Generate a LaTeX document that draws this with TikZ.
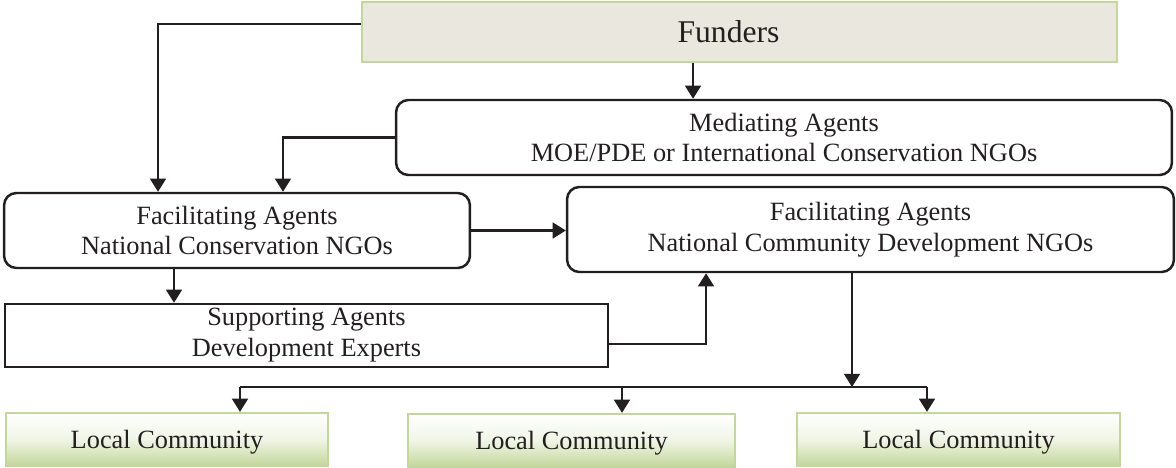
\documentclass[tikz,border=0pt]{standalone}
\usepackage{fontspec}
\setmainfont{Liberation Serif}
\usetikzlibrary{arrows.meta,positioning,calc}
\definecolor{fundfill}{RGB}{234,231,222}
\definecolor{leaf}{RGB}{195,214,155}
\definecolor{ink}{RGB}{35,31,32}

\begin{document}
\begin{tikzpicture}[x=0.02cm,y=-0.02cm,
  agent/.style={draw=ink, line width=1.4pt, rounded corners=7pt, align=center,
    text=ink, font=\fontsize{15}{17.6}\selectfont, inner sep=0pt},
  flat/.style={draw=ink, line width=1.4pt, align=center, text=ink,
    font=\fontsize{15}{17.6}\selectfont, inner sep=0pt},
  local/.style={draw=leaf, line width=1.3pt, top color=white, bottom color=leaf,
    middle color=white!75!leaf, text=ink, font=\fontsize{15}{18}\selectfont,
    minimum height=1.06cm, text height=11pt, text depth=1pt},
  link/.style={draw=ink, line width=1.3pt},
  arr/.style={link, -{Triangle[width=9pt,length=7.5pt]}}]
\useasboundingbox (0,0) rectangle (1176,467);

% boxes
\node[draw=leaf, line width=1.4pt, fill=fundfill, text=ink,
  font=\fontsize{18}{20}\selectfont, minimum width=15.1cm, minimum height=1.2cm]
  (funders) at (739.5,32) {\hspace*{-0.44cm}Funders};
\node[agent, minimum width=15.52cm, minimum height=1.5cm] (mediating) at (784,137.5)
  {Mediating Agents\\MOE/PDE or International Conservation NGOs};
\node[agent, minimum width=9.32cm, minimum height=1.5cm] (facCons) at (237,230.5)
  {Facilitating Agents\\National Conservation NGOs};
\node[agent, minimum width=12.14cm, minimum height=1.7cm] (facDev) at (870.5,229.5)
  {Facilitating Agents\\National Community Development NGOs};
\node[flat, minimum width=12.06cm, minimum height=1.26cm] (support) at (306.5,335.5)
  {Supporting Agents\\Development Experts};
\node[local, minimum width=6.44cm] (local1) at (167,439.5) {Local Community};
\node[local, minimum width=6.54cm] (local2) at (571.5,440.5) {Local Community};
\node[local, minimum width=6.46cm] (local3) at (958.5,439.5) {Local Community};

% connectors
\draw[arr] ([yshift=0.16cm]funders.west) -| ([xshift=-1.58cm]facCons.north);
\draw[arr] ([xshift=-0.93cm]funders.south) -- ([xshift=-0.93cm]funders.south |- mediating.north);
\draw[arr] (mediating.west) -| ([xshift=0.92cm]facCons.north);
\draw[arr] (facCons.east) -- (facDev.west |- facCons.east);
\draw[arr] ([xshift=-1.26cm]facCons.south) -- ([xshift=-1.26cm]facCons.south |- support.north);
\draw[arr] ([yshift=-0.17cm]support.east) -| ([xshift=-3.29cm]facDev.south);

\coordinate (busL) at (240,387);
\coordinate (busM) at (622,387);
\coordinate (busR) at (927,387);
\draw[arr] ([xshift=-0.37cm]facDev.south) -- ([xshift=-0.37cm]facDev.south |- busL);
\draw[link] (busL) -- (busR);
\draw[arr] (busL) -- (busL |- local1.north);
\draw[arr] (busM) -- (busM |- local2.north);
\draw[arr] (busR) -- (busR |- local3.north);
\end{tikzpicture}
\end{document}
